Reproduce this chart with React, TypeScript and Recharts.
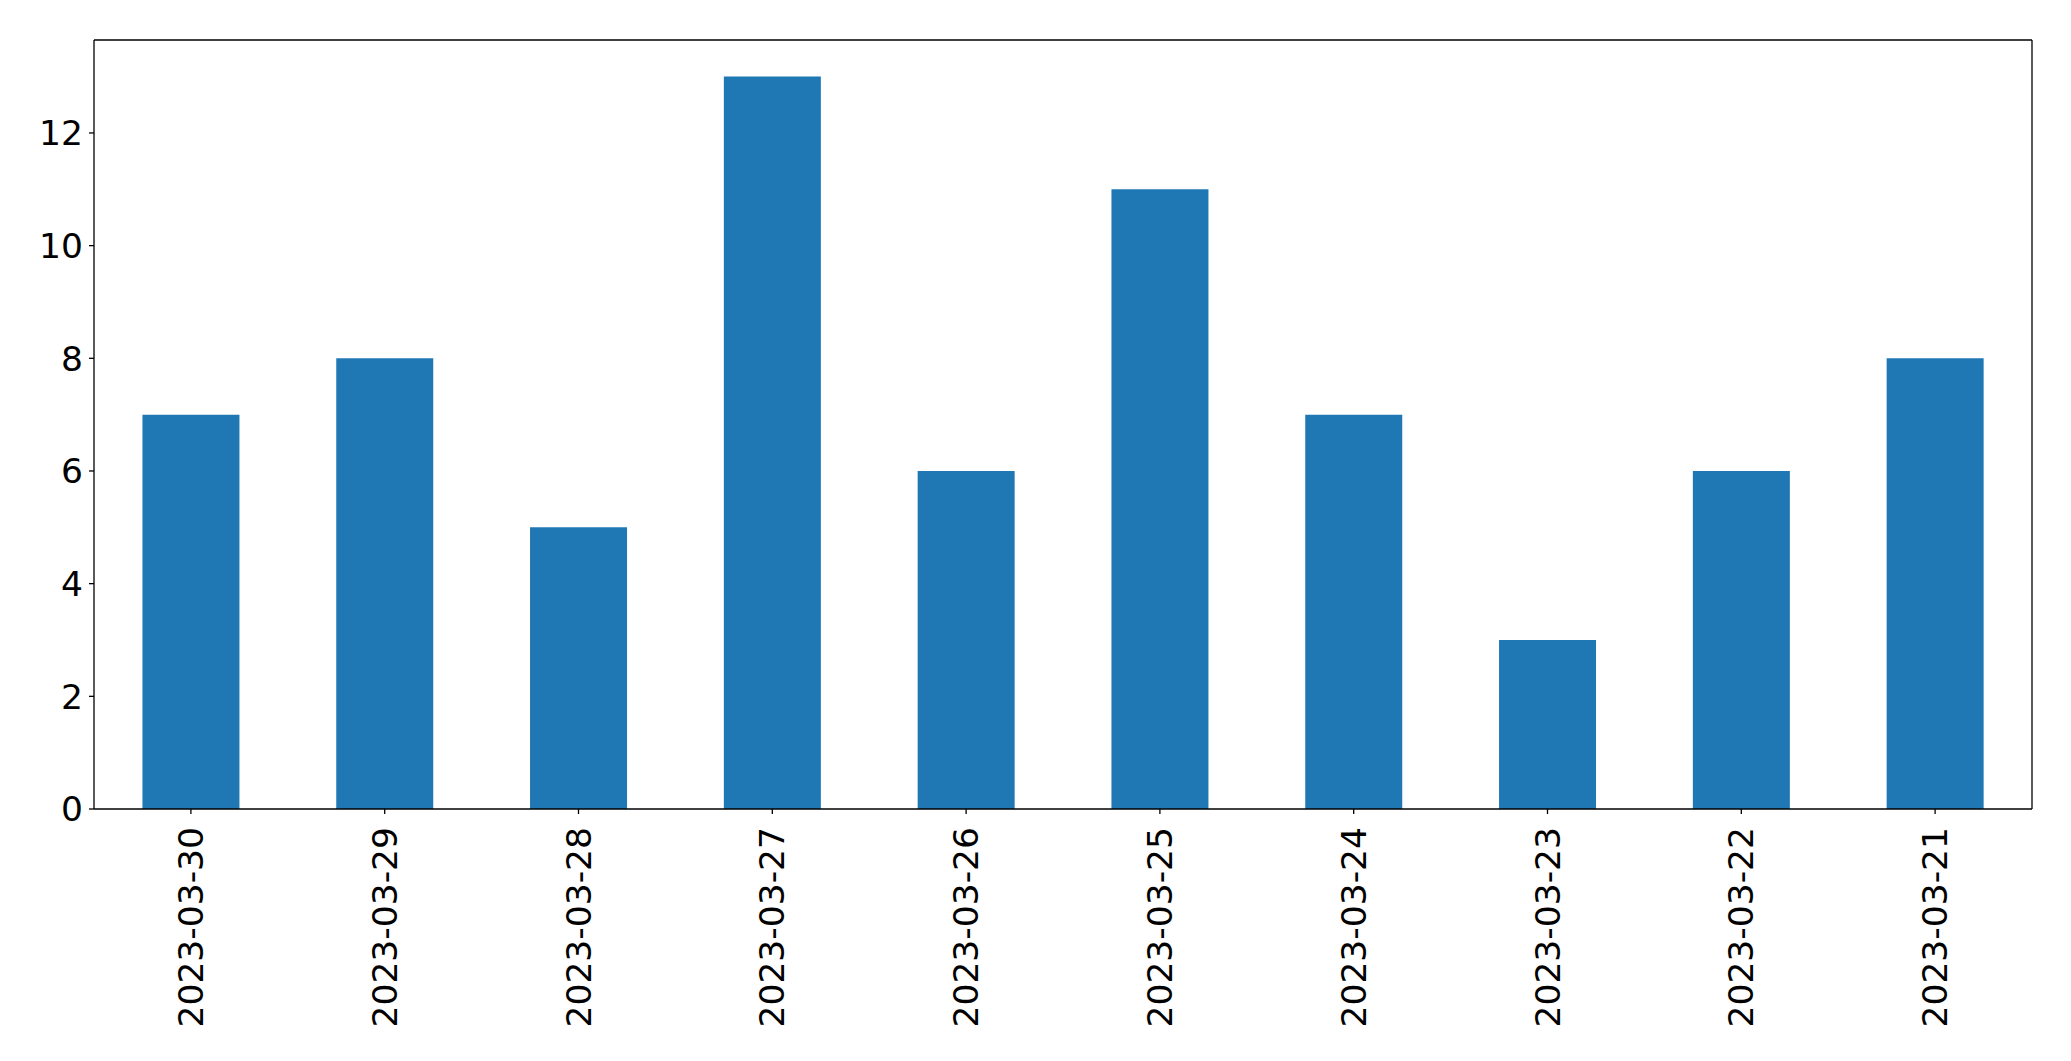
import { Bar, BarChart, XAxis, YAxis } from "recharts"

const dates = [
  "2023-03-30",
  "2023-03-29",
  "2023-03-28",
  "2023-03-27",
  "2023-03-26",
  "2023-03-25",
  "2023-03-24",
  "2023-03-23",
  "2023-03-22",
  "2023-03-21",
]
const counts = [7, 8, 5, 13, 6, 11, 7, 3, 6, 8]
const yTicks = [0, 2, 4, 6, 8, 10, 12]

const data = dates.map((d, i) => ({ date: d, count: counts[i] }))

const FONT = "'DejaVu Sans', sans-serif"

function DateTick(props: any) {
  const { x, y, payload } = props
  return (
    <g transform={`translate(${x},${y + 11})`}>
      <text
        transform="rotate(-90)"
        textAnchor="end"
        dominantBaseline="central"
        fontFamily={FONT}
        fontSize={34.5}
        fill="#000"
      >
        {payload.value}
      </text>
    </g>
  )
}

export default function App() {
  return (
    <div style={{ position: "absolute", left: 0, top: 0, background: "#fff" }}>
      <BarChart
        width={2071}
        height={1061}
        data={data}
        margin={{ top: 39, right: 38, bottom: 0, left: 0 }}
        barCategoryGap="25%"
      >
        <XAxis
          dataKey="date"
          height={252}
          stroke="#000"
          strokeWidth={1.3}
          tickSize={5}
          tickLine={{ stroke: "#000" }}
          tick={<DateTick />}
          interval={0}
        />
        <XAxis
          xAxisId="top"
          orientation="top"
          dataKey="date"
          height={1}
          stroke="#000"
          strokeWidth={1.3}
          tick={false}
          tickLine={false}
        />
        <YAxis
          width={94}
          domain={[0, 13.65]}
          ticks={yTicks}
          stroke="#000"
          strokeWidth={1.3}
          tickSize={5}
          tickMargin={6}
          tick={{ fill: "#000", fontSize: 34.5, fontFamily: FONT }}
        />
        <YAxis
          yAxisId="right"
          orientation="right"
          width={1}
          domain={[0, 13.65]}
          stroke="#000"
          strokeWidth={1.3}
          tick={false}
          tickLine={false}
        />
        <Bar dataKey="count" fill="#1f77b4" isAnimationActive={false} />
      </BarChart>
    </div>
  )
}
